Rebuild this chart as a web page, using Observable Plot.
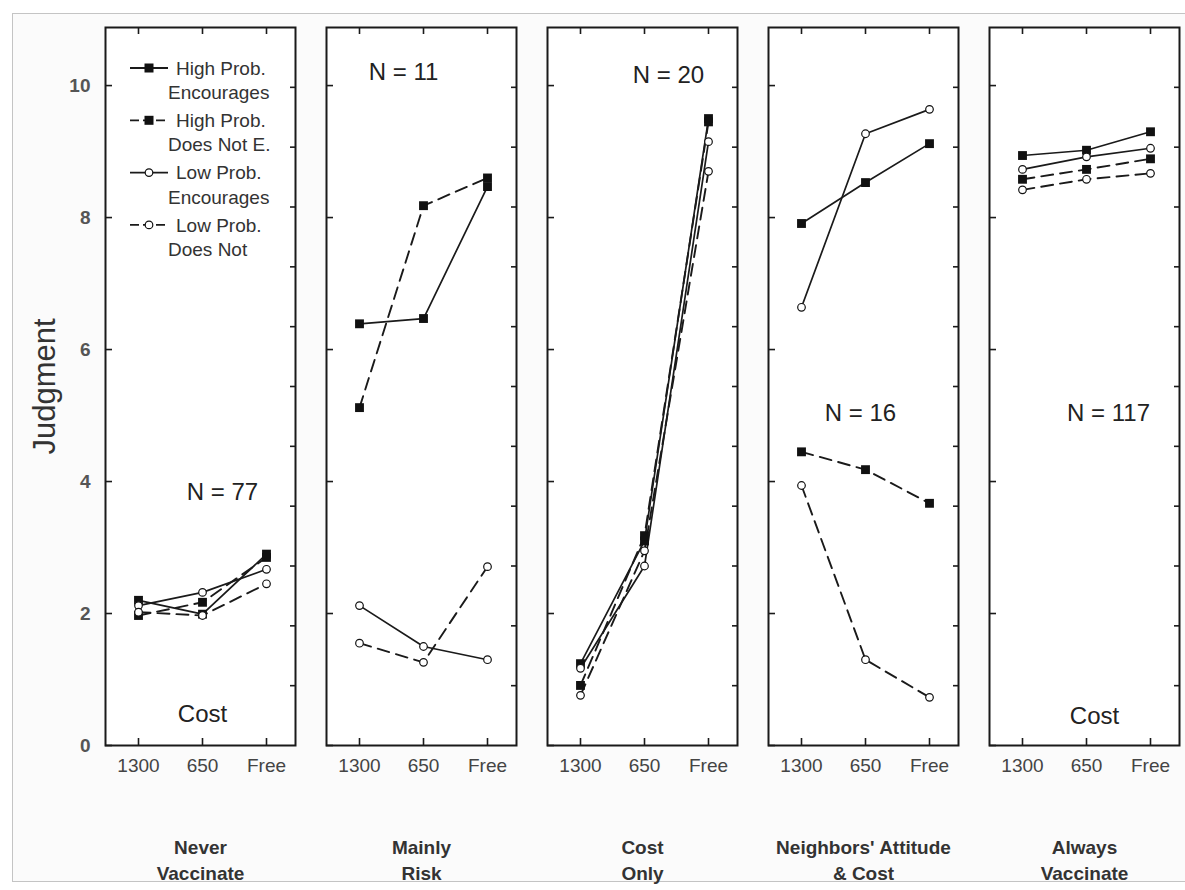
<!DOCTYPE html>
<html><head><meta charset="utf-8">
<script src="https://cdn.jsdelivr.net/npm/d3@7"></script>
<script src="https://cdn.jsdelivr.net/npm/@observablehq/plot@0.6"></script>
<style>
body{margin:0;background:#fff;font-family:"Liberation Sans",Arial,sans-serif;}
#wrap{position:relative;width:1185px;height:890px;overflow:hidden;}
#border{position:absolute;left:12px;top:13px;width:1200px;height:869px;border:1px solid #c4c4c4;background:#fbfbfb;box-sizing:border-box;}
#chart{position:absolute;left:0;top:0;}
#legend{position:absolute;left:0;top:0;}
</style></head><body>
<div id="wrap"><div id="border"></div><div id="chart"></div><svg id="legend" width="1185" height="890"></svg></div>
<script>
// ---- data ----
const groups = ["Never Vaccinate", "Mainly Risk", "Cost Only", "Neighbors' Attitude & Cost", "Always Vaccinate"];
const groupLabels = ["Never\nVaccinate", "Mainly\nRisk", "Cost\nOnly", "Neighbors' Attitude\n& Cost", "Always\nVaccinate"];
const costs = ["1300", "650", "Free"];
const seriesNames = ["High Prob.\nEncourages", "High Prob.\nDoes Not E.", "Low Prob.\nEncourages", "Low Prob.\nDoes Not"];
const seriesHigh = [true, true, false, false];
const seriesDashed = [false, true, false, true];
// values per group (rows) per cost (columns)
const highEncourages = [[2.20, 1.99, 2.90], [6.39, 6.47, 8.47], [1.24, 3.10, 9.50], [7.91, 8.53, 9.12], [8.94, 9.02, 9.30]];
const highDoesNot    = [[1.97, 2.17, 2.85], [5.12, 8.18, 8.60], [0.91, 3.18, 9.45], [4.45, 4.18, 3.67], [8.58, 8.73, 8.89]];
const lowEncourages  = [[2.12, 2.32, 2.67], [2.12, 1.50, 1.30], [1.17, 2.72, 9.15], [6.64, 9.27, 9.64], [8.73, 8.92, 9.05]];
const lowDoesNot     = [[2.02, 1.97, 2.45], [1.55, 1.26, 2.71], [0.76, 2.95, 8.70], [3.94, 1.30, 0.73], [8.42, 8.58, 8.67]];
const seriesValues = [highEncourages, highDoesNot, lowEncourages, lowDoesNot];
// annotations
const annoText = ["N = 77", "N = 11", "N = 20", "N = 16", "N = 117", "Cost", "Cost"];
const annoGroup = [0, 1, 2, 3, 4, 0, 4];
const annoCost = ["650", "650", "650", "650", "650", "650", "650"];
const annoValue = [3.83, 10.2, 10.15, 5.03, 5.03, 0.48, 0.44];
const yTicks = [0, 2, 4, 6, 8, 10];
const yTop = 10.88;
const rightTickCount = 12;

// ---- build table ----
const rows = [];
seriesNames.forEach((s, si) => {
  groups.forEach((g, gi) => {
    costs.forEach((c, ci) => {
      rows.push({series: s, high: seriesHigh[si], dashed: seriesDashed[si], group: g, cost: c, value: seriesValues[si][gi][ci]});
    });
  });
});
const annotations = annoText.map((t, i) => ({text: t, group: groups[annoGroup[i]], cost: annoCost[i], value: annoValue[i]}));
const rightTicks = d3.range(1, rightTickCount).map(k => k * yTop / rightTickCount);

// layout offsets for annotations (pixels)
const annoDx = [20, -20, 24, -5, 22, 0, 8];
const annoSize = [24, 24, 24, 24, 24, 24, 24];

const ink = "#1a1a1a";
const chart = Plot.plot({
  width: 1185, height: 890,
  marginLeft: 105, marginRight: 6, marginTop: 27, marginBottom: 145,
  style: {background: "transparent", fontFamily: "'Liberation Sans', Arial, sans-serif", color: ink, overflow: "visible"},
  fx: {domain: groups, paddingInner: 31 / 221, paddingOuter: 0, axis: null},
  x: {type: "point", domain: costs, padding: 0, insetLeft: 33, insetRight: 29},
  y: {domain: [0, yTop]},
  marks: [
    Plot.frame({fill: "white", stroke: null}),
    Plot.line(rows.filter(d => !d.dashed), {fx: "group", x: "cost", y: "value", z: "series", stroke: ink, strokeWidth: 1.7}),
    Plot.line(rows.filter(d => d.dashed), {fx: "group", x: "cost", y: "value", z: "series", stroke: ink, strokeWidth: 1.9, strokeDasharray: "12,7"}),
    Plot.dot(rows.filter(d => d.high), {fx: "group", x: "cost", y: "value", symbol: "square", fill: "#111", r: 5}),
    Plot.dot(rows.filter(d => !d.high), {fx: "group", x: "cost", y: "value", symbol: "circle", fill: "white", stroke: "#111", strokeWidth: 1.2, r: 3.8}),
    ...annotations.map((a, i) => Plot.text([a], {fx: "group", x: "cost", y: "value", text: "text", dx: annoDx[i], fontSize: annoSize[i], fill: "#222"})),
    Plot.frame({stroke: ink, strokeWidth: 2}),
    Plot.axisY({ticks: yTicks, tickSize: -7, tickFormat: () => "", label: null, facetAnchor: null, strokeWidth: 1.6}),
    Plot.axisY({anchor: "right", ticks: rightTicks, tickSize: -6, tickFormat: () => "", label: null, facetAnchor: null, strokeWidth: 1.6}),
    Plot.axisY({ticks: yTicks, tickSize: 0, tickPadding: 15, label: null, fontSize: 19, fontWeight: "bold", fill: "#555"}),
    Plot.axisX({anchor: "top", tickSize: -6, tickFormat: () => "", label: null, facetAnchor: null, strokeWidth: 1.6}),
    Plot.axisX({anchor: "bottom", tickSize: -7, tickFormat: () => "", label: null, facetAnchor: null, strokeWidth: 1.6}),
    Plot.axisX({anchor: "bottom", tickSize: 0, tickPadding: 13, label: null, fontSize: 19, fill: "#444", facetAnchor: null}),
    Plot.text(groups, {fx: d => d, text: (d, i) => groupLabels[i], frameAnchor: "bottom", lineAnchor: "top", dy: 90, fontSize: 19, fontWeight: "bold", lineHeight: 1.37, fill: "#333"}),
    Plot.text(["Judgment"], {fx: () => groups[0], text: d => d, frameAnchor: "left", textAnchor: "middle", rotate: -90, dx: -60, fontSize: 31, fill: "#333"})
  ]
});
document.getElementById("chart").appendChild(chart);

// ---- legend (inside first panel) ----
const lg = d3.select("#legend");
seriesNames.forEach((name, i) => {
  const cy = 68 + i * 52.3;
  const g = lg.append("g");
  g.append("line").attr("x1", 130).attr("x2", 168).attr("y1", cy).attr("y2", cy)
    .attr("stroke", ink).attr("stroke-width", 1.8).attr("stroke-dasharray", seriesDashed[i] ? "9,4" : null);
  if (seriesHigh[i]) {
    g.append("rect").attr("x", 144.5).attr("y", cy - 4.5).attr("width", 9).attr("height", 9).attr("fill", "#111");
  } else {
    g.append("circle").attr("cx", 149).attr("cy", cy).attr("r", 3.8).attr("fill", "white").attr("stroke", "#111").attr("stroke-width", 1.2);
  }
  const [l1, l2] = name.split("\n");
  g.append("text").attr("x", 176).attr("y", cy).attr("dy", "0.35em").attr("font-size", 19).attr("fill", "#333")
    .attr("font-family", "'Liberation Sans', Arial, sans-serif").text(l1);
  g.append("text").attr("x", 168).attr("y", cy + 24.5).attr("dy", "0.35em").attr("font-size", 19).attr("fill", "#333")
    .attr("font-family", "'Liberation Sans', Arial, sans-serif").text(l2);
});
</script>
</body></html>
